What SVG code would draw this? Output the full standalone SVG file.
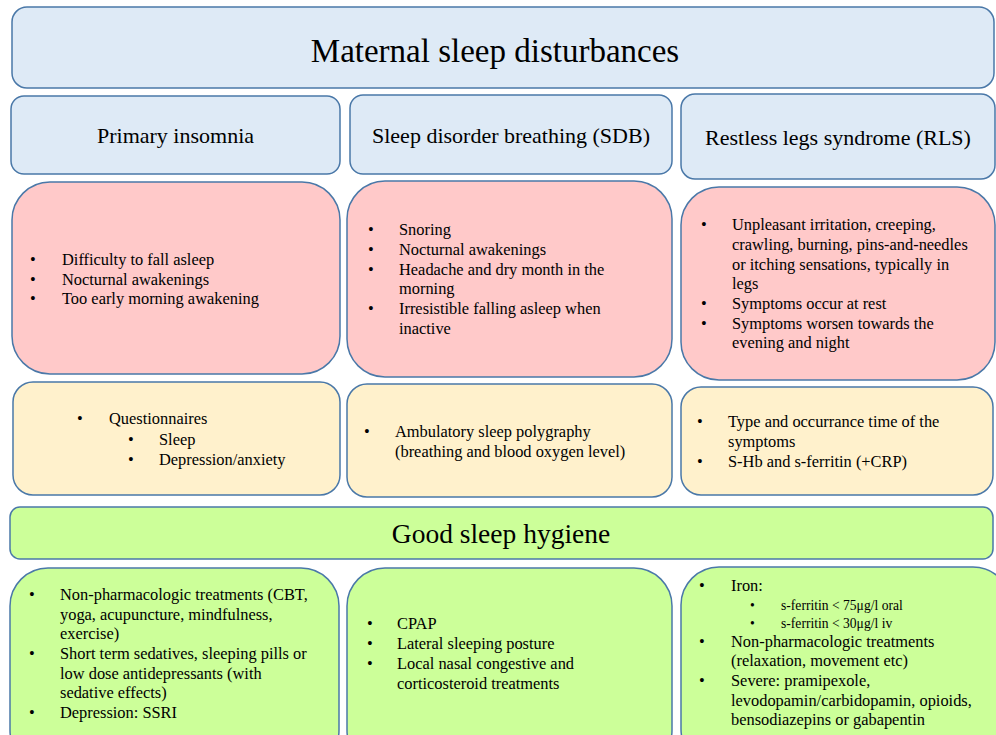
<svg xmlns="http://www.w3.org/2000/svg" width="996" height="735" viewBox="0 0 996 735" font-family="'Liberation Serif','Times New Roman',serif">
<style>
.box{stroke:#4a78a8;stroke-width:1.5}
.blue{fill:#deeaf6}
.pink{fill:#ffc9c9}
.yel{fill:#fff1cc}
.grn{fill:#ccff99}
text,tspan{font-family:"Liberation Serif","Times New Roman",serif}
text{fill:#000}
.t{font-size:16.4px;font-family:"Liberation Serif","Times New Roman",serif}
.s{font-size:13.6px;font-family:"Liberation Serif","Times New Roman",serif}
.h{font-size:22px;text-anchor:middle;font-family:"Liberation Serif","Times New Roman",serif}
</style>
<rect width="996" height="735" fill="#fff"/>
<g id="title">
<rect class="box blue" x="12" y="7" width="982" height="81" rx="15"/>
<text x="495" y="62" style="font-size:33px;text-anchor:middle">Maternal sleep disturbances</text>
</g>
<g id="h-insomnia">
<rect class="box blue" x="11" y="96" width="329" height="78" rx="13"/>
<text class="h" x="175.5" y="143">Primary insomnia</text>
</g>
<g id="h-sdb">
<rect class="box blue" x="350" y="95" width="322" height="79" rx="13"/>
<text class="h" x="511" y="143">Sleep disorder breathing (SDB)</text>
</g>
<g id="h-rls">
<rect class="box blue" x="681" y="94" width="314" height="85" rx="14"/>
<text class="h" x="838" y="145">Restless legs syndrome (RLS)</text>
</g>
<g id="sym-insomnia">
<rect class="box pink" x="12" y="182" width="328" height="192" rx="38"/>
<text class="t"><tspan x="30" y="265">•</tspan><tspan x="62" y="265">Difficulty to fall asleep</tspan><tspan x="30" y="285">•</tspan><tspan x="62" y="285">Nocturnal awakenings</tspan><tspan x="30" y="304">•</tspan><tspan x="62" y="304">Too early morning awakening</tspan></text>
</g>
<g id="sym-sdb">
<rect class="box pink" x="347" y="181" width="325" height="196" rx="38"/>
<text class="t"><tspan x="368" y="235">•</tspan><tspan x="399" y="235">Snoring</tspan><tspan x="368" y="255">•</tspan><tspan x="399" y="255">Nocturnal awakenings</tspan><tspan x="368" y="275">•</tspan><tspan x="399" y="275">Headache and dry month in the</tspan><tspan x="399" y="294">morning</tspan><tspan x="368" y="314">•</tspan><tspan x="399" y="314">Irresistible falling asleep when</tspan><tspan x="399" y="334">inactive</tspan></text>
</g>
<g id="sym-rls">
<rect class="box pink" x="681" y="187" width="314" height="193" rx="38"/>
<text class="t"><tspan x="701" y="230">•</tspan><tspan x="732" y="230">Unpleasant irritation, creeping,</tspan><tspan x="732" y="250">crawling, burning, pins-and-needles</tspan><tspan x="732" y="270">or itching sensations, typically in</tspan><tspan x="732" y="289">legs</tspan><tspan x="701" y="309">•</tspan><tspan x="732" y="309">Symptoms occur at rest</tspan><tspan x="701" y="329">•</tspan><tspan x="732" y="329">Symptoms worsen towards the</tspan><tspan x="732" y="348">evening and night</tspan></text>
</g>
<g id="dx-insomnia">
<rect class="box yel" x="13" y="382" width="327" height="113" rx="20"/>
<text class="t"><tspan x="77" y="424">•</tspan><tspan x="109" y="424">Questionnaires</tspan><tspan x="128" y="445">•</tspan><tspan x="159" y="445">Sleep</tspan><tspan x="128" y="465">•</tspan><tspan x="159" y="465">Depression/anxiety</tspan></text>
</g>
<g id="dx-sdb">
<rect class="box yel" x="347" y="384" width="325" height="113" rx="20"/>
<text class="t"><tspan x="364" y="437">•</tspan><tspan x="395" y="437">Ambulatory sleep polygraphy</tspan><tspan x="395" y="457">(breathing and blood oxygen level)</tspan></text>
</g>
<g id="dx-rls">
<rect class="box yel" x="681" y="387" width="312" height="108" rx="20"/>
<text class="t"><tspan x="697" y="427">•</tspan><tspan x="728" y="427">Type and occurrance time of the</tspan><tspan x="728" y="447">symptoms</tspan><tspan x="697" y="467">•</tspan><tspan x="728" y="467">S-Hb and s-ferritin (+CRP)</tspan></text>
</g>
<g id="hygiene">
<rect class="box grn" x="10" y="507" width="983" height="52" rx="10"/>
<text x="501" y="543" style="font-size:27.5px;text-anchor:middle">Good sleep hygiene</text>
</g>
<g id="tx-insomnia">
<rect class="box grn" x="10" y="568" width="329" height="200" rx="38"/>
<text class="t"><tspan x="29" y="600">•</tspan><tspan x="60" y="600">Non-pharmacologic treatments (CBT,</tspan><tspan x="60" y="620">yoga, acupuncture, mindfulness,</tspan><tspan x="60" y="639">exercise)</tspan><tspan x="29" y="659">•</tspan><tspan x="60" y="659">Short term sedatives, sleeping pills or</tspan><tspan x="60" y="679">low dose antidepressants (with</tspan><tspan x="60" y="698">sedative effects)</tspan><tspan x="29" y="718">•</tspan><tspan x="60" y="718">Depression: SSRI</tspan></text>
</g>
<g id="tx-sdb">
<rect class="box grn" x="347" y="568" width="325" height="200" rx="38"/>
<text class="t"><tspan x="367" y="629">•</tspan><tspan x="397" y="629">CPAP</tspan><tspan x="367" y="649">•</tspan><tspan x="397" y="649">Lateral sleeping posture</tspan><tspan x="367" y="669">•</tspan><tspan x="397" y="669">Local nasal congestive and</tspan><tspan x="397" y="689">corticosteroid treatments</tspan></text>
</g>
<g id="tx-rls">
<rect class="box grn" x="681" y="567" width="330" height="200" rx="38"/>
<text class="t"><tspan x="699" y="591">•</tspan><tspan x="731" y="591">Iron:</tspan></text>
<text class="s"><tspan x="750" y="610">•</tspan><tspan x="781" y="610">s-ferritin &lt; 75μg/l oral</tspan><tspan x="750" y="628">•</tspan><tspan x="781" y="628">s-ferritin &lt; 30μg/l iv</tspan></text>
<text class="t"><tspan x="699" y="647">•</tspan><tspan x="731" y="647">Non-pharmacologic treatments</tspan><tspan x="731" y="666">(relaxation, movement etc)</tspan><tspan x="699" y="686">•</tspan><tspan x="731" y="686">Severe: pramipexole,</tspan><tspan x="731" y="706">levodopamin/carbidopamin, opioids,</tspan><tspan x="731" y="725">bensodiazepins or gabapentin</tspan></text>
</g>
<g id="connectors"></g>
</svg>
